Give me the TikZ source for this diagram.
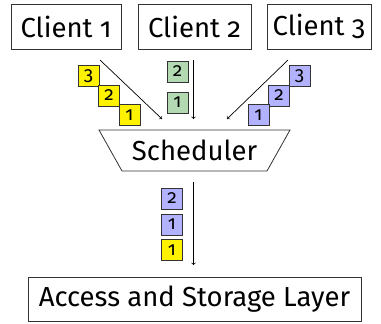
\documentclass[tikz,border=0pt]{standalone}
\usepackage{fontspec}
\setmainfont[Numbers=OldStyle]{Fira Sans}

\definecolor{reqgreen}{rgb}{0.7,0.85,0.7}
\definecolor{reqblue}{rgb}{0.7,0.7,1}
\definecolor{boxline}{gray}{0.2}

\tikzset{
  layer/.style={draw=boxline, line width=0.8pt, minimum height=45pt, inner sep=0pt, font=\fontsize{27.5}{32}\selectfont},
  req/.style={draw=boxline, line width=0.7pt, minimum width=21pt, minimum height=21pt, inner sep=0pt, font=\fontsize{19}{22}\selectfont},
  reqA/.style={req, fill=yellow},
  reqB/.style={req, fill=reqgreen},
  reqC/.style={req, fill=reqblue},
  flow/.style={->, line width=0.7pt}
}

\begin{document}
\begin{tikzpicture}[x=1pt, y=-1pt]
    \useasboundingbox (0,0) rectangle (381,324);

    % Clients
    \node[layer, minimum width=110pt] (client1) at (66,26.5) {Client 1};
    \node[layer, minimum width=113pt] (client2) at (194.5,26.5) {Client 2};
    \node[layer, minimum width=104pt] (client3) at (319,26.5) {Client 3};

    % Scheduler (funnel outline around the label)
    \node[font=\fontsize{27.5}{32}\selectfont, inner sep=0pt] (sched) at (194.5,150.5) {Scheduler};
    \draw[draw=boxline, line width=0.8pt] (99,130) -- (290,130) -- (267,171) -- (122,171) -- cycle;

    % Storage
    \node[layer, minimum width=333pt, minimum height=44pt] (storage) at (194.5,299) {Access and Storage Layer};

    % Arrow ends
    \coordinate (in1) at (100,60);
    \coordinate (in2) at (193.5,60);
    \coordinate (in3) at (288,60);
    \coordinate (to1) at (162,119);
    \coordinate (to2) at (193.5,119);
    \coordinate (to3) at (227,119);
    \coordinate (out) at (193.5,182);
    \coordinate (down) at (193.5,265);

    \draw[flow] (in1) -- (to1);
    \draw[flow] (in2) -- (to2);
    \draw[flow] (in3) -- (to3);
    \draw[flow] (out) -- (down);

    % Requests of client 1
    \node[reqA] (a3) at (88.5,76) {3};
    \node[reqA] (a2) at (109,95.5) {2};
    \node[reqA] (a1) at (129.5,115) {1};

    % Requests of client 2
    \node[reqB] (b2) at (177.5,71.5) {2};
    \node[reqB] (b1) at (177.5,102.5) {1};

    % Requests of client 3
    \node[reqC] (c3) at (299.5,76) {3};
    \node[reqC] (c2) at (279,95.5) {2};
    \node[reqC] (c1) at (258.5,115) {1};

    % Scheduled order
    \node[reqC] (s1) at (172,198.5) {2};
    \node[reqC] (s2) at (172,224.5) {1};
    \node[reqA] (s3) at (172,250) {1};
\end{tikzpicture}
\end{document}
